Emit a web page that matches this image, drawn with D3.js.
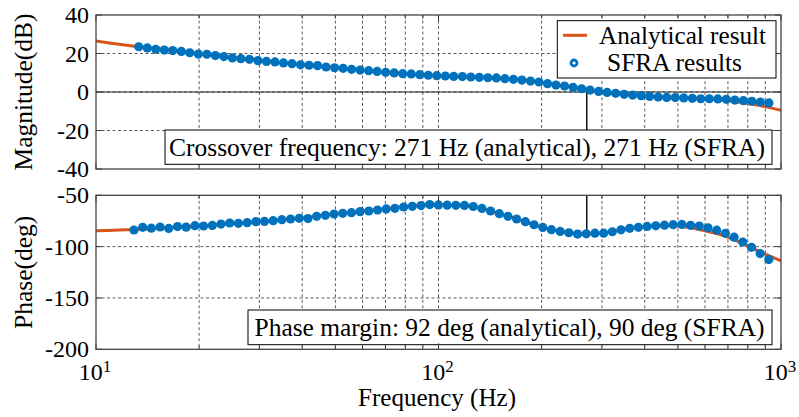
<!DOCTYPE html>
<html>
<head>
<meta charset="utf-8">
<script src="https://cdn.jsdelivr.net/npm/d3@7"></script>
</head>
<body style="margin:0;background:#fff">
<svg id="chart" width="799" height="417" style="display:block"></svg>
<script>
// ---- Loop-gain Bode data ----
// SFRA sweep: magnitude samples (Hz, dB)
const magFreq = [13.33, 14.12, 14.95, 15.83, 16.76, 17.75, 18.79, 19.90, 21.07, 22.31,
  23.63, 25.02, 26.49, 28.05, 29.71, 31.46, 33.31, 35.27, 37.35, 39.55,
  41.88, 44.35, 46.96, 49.73, 52.66, 55.76, 59.05, 62.53, 66.21, 70.11,
  74.24, 78.62, 83.25, 88.15, 93.35, 98.85, 104.7, 110.8, 117.4, 124.3,
  131.6, 139.4, 147.6, 156.3, 165.5, 175.2, 185.6, 196.5, 208.1, 220.3,
  233.3, 247.1, 261.6, 277.0, 293.4, 310.7, 329.0, 348.4, 368.9, 390.6,
  413.6, 438.0, 463.8, 491.2, 520.1, 550.8, 583.2, 617.6, 654.0, 692.5,
  733.3, 776.5, 822.3, 870.7, 922.0];
const magSFRA = [23.5, 22.9, 22.2, 21.8, 21.5, 21.1, 20.4, 19.7, 19.6, 18.9,
  18.4, 17.7, 17.3, 17.0, 16.3, 15.9, 15.6, 15.1, 14.7, 14.1,
  13.9, 13.7, 13.0, 12.6, 12.3, 11.8, 11.4, 11.1, 10.7, 10.2,
  9.9, 9.5, 9.4, 9.0, 8.7, 8.5, 8.3, 8.1, 8.0, 7.8,
  7.6, 7.4, 7.3, 6.9, 6.6, 6.2, 5.7, 5.2, 4.3, 3.6,
  3.1, 2.4, 1.7, 1.0, 0.3, -0.2, -0.7, -1.2, -1.6, -1.9,
  -2.3, -2.6, -2.8, -2.9, -3.1, -3.3, -3.5, -3.5, -3.6, -3.8,
  -4.2, -4.5, -4.8, -5.2, -5.7];

// SFRA sweep: phase samples (Hz, deg)
const phFreq = [12.91, 13.69, 14.51, 15.39, 16.31, 17.30, 18.34, 19.44, 20.61, 21.86,
  23.17, 24.57, 26.05, 27.62, 29.28, 31.04, 32.91, 34.89, 36.99, 39.22,
  41.58, 44.08, 46.74, 49.55, 52.54, 55.70, 59.05, 62.61, 66.38, 70.37,
  74.61, 79.10, 83.86, 88.91, 94.27, 99.94, 106.0, 112.4, 119.1, 126.3,
  133.9, 141.9, 150.5, 159.5, 169.1, 179.3, 190.1, 201.6, 213.7, 226.6,
  240.2, 254.7, 270.0, 286.2, 303.5, 321.7, 341.1, 361.7, 383.4, 406.5,
  431.0, 456.9, 484.4, 513.6, 544.5, 577.3, 612.0, 648.9, 688.0, 729.4,
  773.3, 819.8, 869.2, 921.5];
const phSFRA = [-83.8, -81.2, -82.0, -80.9, -82.3, -80.5, -81.0, -79.6, -79.9, -79.3,
  -78.0, -77.0, -77.3, -76.7, -75.7, -75.4, -74.7, -73.7, -73.1, -72.4,
  -72.7, -70.5, -69.5, -68.2, -67.6, -66.9, -65.9, -65.3, -64.3, -63.3,
  -62.7, -61.4, -60.7, -60.0, -59.0, -59.4, -59.6, -59.8, -59.9, -60.9,
  -62.8, -65.3, -67.9, -70.5, -73.1, -75.7, -78.7, -81.3, -83.5, -85.2,
  -86.5, -87.8, -87.5, -86.9, -86.9, -85.5, -83.6, -82.2, -81.2, -80.3,
  -79.7, -79.1, -78.6, -78.4, -79.2, -80.0, -81.7, -84.0, -87.0, -90.8,
  -95.5, -100.7, -106.8, -112.6];

// Analytical model (Hz, dB / deg)
const anaFreq = [10, 13.3, 16, 20, 25, 30, 40, 50, 60, 70, 80, 90, 100, 120, 140, 160, 180,
  200, 230, 260, 290, 330, 380, 430, 500, 580, 650, 730, 820, 900, 1000];
const anaMag = [26.5, 23.5, 22.0, 19.9, 18.0, 16.4, 14.1, 12.6, 11.3, 10.2, 9.4, 8.8, 8.4, 7.9, 7.4, 6.8, 6.0,
  5.0, 3.3, 1.8, 0.4, -0.8, -1.8, -2.5, -3.0, -3.5, -4.0, -4.9, -6.2, -7.6, -9.5];
const anaPhFreq = [10, 13, 16, 20, 25, 30, 35, 40, 50, 60, 70, 80, 90, 100, 115, 130, 150, 170,
  200, 230, 260, 290, 330, 380, 430, 480, 540, 600, 680, 770, 860, 1000];
const anaPh = [-84.5, -83.3, -81.8, -79.8, -77.6, -75.7, -73.8, -72.0, -68.1, -65.6, -63.2, -61.0, -59.8, -59.4, -59.8, -62.2, -67.6, -73.3,
  -81.0, -85.5, -87.5, -87.0, -84.6, -81.3, -79.7, -79.3, -81.3, -84.5, -89.3, -96.8, -104.3, -113.8];

// Stability figures
const crossoverHz = 271;
const phaseMarginDeg = 92;
const phaseMarginSFRA = 90;
const magTicks = [-40, -20, 0, 20, 40];
const phTicks = [-200, -150, -100, -50];
const freqTickLabels = [[10, "1"], [100, "2"], [1000, "3"]];

const orange = "#D95319", blue = "#0072BD";
const SERIF = '"Liberation Serif", "Times New Roman", Times, Tinos, "Nimbus Roman", "DejaVu Serif", serif';

// ---- Layout ----
const svg = d3.select("#chart");
const x = d3.scaleLog().domain([10, 1000]).range([96, 781]);
const yMag = d3.scaleLinear().domain([-40, 40]).range([169, 15]);
const yPh = d3.scaleLinear().domain([-200, -50]).range([349.3, 195.3]);

const freqGrid = x.ticks().filter(f => f > 10 && f < 1000);
const isMajor = f => Math.abs(Math.log10(f) - Math.round(Math.log10(f))) < 1e-9;

function label(sel, size) {
  return sel.attr("font-family", SERIF).attr("font-size", size).attr("fill", "#000");
}
// keep long captions at a fixed run length whatever face is picked
function fit(sel, len) {
  return sel.attr("textLength", len).attr("lengthAdjust", "spacingAndGlyphs");
}

function panel(id, y, yTicks) {
  const [x0, x1] = x.range();
  const [yb, yt] = y.range();
  const g = svg.append("g");
  svg.append("clipPath").attr("id", id).append("rect")
    .attr("x", x0).attr("y", yt).attr("width", x1 - x0).attr("height", yb - yt);

  // dashed grid
  const grid = g.append("g").attr("stroke", "#2b2b2b").attr("stroke-width", 0.9)
    .attr("stroke-dasharray", "3,2.5").attr("opacity", 0.85);
  grid.selectAll("line.v").data(freqGrid).join("line").attr("class", "v")
    .attr("x1", d => x(d)).attr("x2", d => x(d)).attr("y1", yt).attr("y2", yb);
  grid.selectAll("line.h").data(yTicks.slice(1, -1)).join("line").attr("class", "h")
    .attr("x1", x0).attr("x2", x1).attr("y1", d => y(d)).attr("y2", d => y(d));
  return { g, x0, x1, yt, yb };
}

function frame(p, y, yTicks) {
  const { g, x0, x1, yt, yb } = p;
  const t = g.append("g").attr("stroke", "#3a3a3a").attr("stroke-width", 1);
  // x ticks on bottom and top edges, inward
  t.selectAll("line.xb").data(x.ticks()).join("line").attr("class", "xb")
    .attr("x1", d => x(d)).attr("x2", d => x(d))
    .attr("y1", yb).attr("y2", d => yb - (isMajor(d) ? 6 : 3.5));
  t.selectAll("line.xt").data(x.ticks()).join("line").attr("class", "xt")
    .attr("x1", d => x(d)).attr("x2", d => x(d))
    .attr("y1", yt).attr("y2", d => yt + (isMajor(d) ? 6 : 3.5));
  // y ticks on left and right edges, inward
  t.selectAll("line.yl").data(yTicks).join("line").attr("class", "yl")
    .attr("x1", x0).attr("x2", x0 + 6).attr("y1", d => y(d)).attr("y2", d => y(d));
  t.selectAll("line.yr").data(yTicks).join("line").attr("class", "yr")
    .attr("x1", x1).attr("x2", x1 - 6).attr("y1", d => y(d)).attr("y2", d => y(d));
  g.append("rect").attr("x", x0).attr("y", yt).attr("width", x1 - x0).attr("height", yb - yt)
    .attr("fill", "none").attr("stroke", "#444").attr("stroke-width", 1.3);

  // y tick labels
  const yAxis = d3.axisLeft(y).tickValues(yTicks).tickSize(0).tickPadding(7)
    .tickFormat(d => String(d));
  const ax = g.append("g").attr("transform", `translate(${x0},0)`).call(yAxis);
  label(ax, 24);
  ax.select(".domain").remove();
  label(ax.selectAll("text"), 24);
}

function boxedText(g, str, cx, baseline, len, bx0, bx1, by0, by1) {
  g.append("rect").attr("x", bx0).attr("y", by0).attr("width", bx1 - bx0).attr("height", by1 - by0)
    .attr("fill", "#fff").attr("stroke", "#000").attr("stroke-width", 1);
  fit(label(g.append("text"), 25.5), len)
    .attr("x", cx).attr("y", baseline).attr("text-anchor", "middle").text(str);
}

// ---- Magnitude panel ----
const pm = panel("clipMag", yMag, magTicks);
const cm = pm.g.append("g").attr("clip-path", "url(#clipMag)");
cm.append("line").attr("x1", pm.x0).attr("x2", pm.x1).attr("y1", yMag(0)).attr("y2", yMag(0))
  .attr("stroke", "#222").attr("stroke-width", 1.1);
cm.append("path")
  .datum(anaFreq.map((f, i) => [f, anaMag[i]]))
  .attr("fill", "none").attr("stroke", orange).attr("stroke-width", 3)
  .attr("d", d3.line().x(d => x(d[0])).y(d => yMag(d[1])).curve(d3.curveMonotoneX));
cm.append("line").attr("x1", x(crossoverHz)).attr("x2", x(crossoverHz))
  .attr("y1", yMag(0)).attr("y2", yMag(-20)).attr("stroke", "#000").attr("stroke-width", 1.4);
cm.selectAll("circle").data(magFreq.map((f, i) => [f, magSFRA[i]])).join("circle")
  .attr("cx", d => x(d[0])).attr("cy", d => yMag(d[1])).attr("r", 4.6).attr("fill", blue);
boxedText(pm.g, `Crossover frequency: ${crossoverHz} Hz (analytical), ${crossoverHz} Hz (SFRA)`,
  467, 155.7, 596, 165, 772, 130, 164.3);
frame(pm, yMag, magTicks);

// legend
const lg = svg.append("g");
lg.append("rect").attr("x", 557.3).attr("y", 20.7).attr("width", 218.7).attr("height", 57.3)
  .attr("fill", "#fff").attr("stroke", "#000").attr("stroke-width", 1);
lg.append("line").attr("x1", 563).attr("x2", 587).attr("y1", 35.3).attr("y2", 35.3)
  .attr("stroke", orange).attr("stroke-width", 3);
fit(label(lg.append("text"), 24.5), 167).attr("x", 599).attr("y", 43.5).text("Analytical result");
lg.append("circle").attr("cx", 574).attr("cy", 63).attr("r", 3)
  .attr("fill", "#fff").attr("stroke", blue).attr("stroke-width", 2.8);
fit(label(lg.append("text"), 24.5), 135).attr("x", 607).attr("y", 71).text("SFRA results");

// ---- Phase panel ----
const pp = panel("clipPh", yPh, phTicks);
const cp = pp.g.append("g").attr("clip-path", "url(#clipPh)");
cp.append("path")
  .datum(anaPhFreq.map((f, i) => [f, anaPh[i]]))
  .attr("fill", "none").attr("stroke", orange).attr("stroke-width", 3)
  .attr("d", d3.line().x(d => x(d[0])).y(d => yPh(d[1])).curve(d3.curveMonotoneX));
cp.append("line").attr("x1", x(crossoverHz)).attr("x2", x(crossoverHz))
  .attr("y1", yPh(-50)).attr("y2", yPh(-180 + phaseMarginDeg)).attr("stroke", "#000").attr("stroke-width", 1.4);
cp.selectAll("circle").data(phFreq.map((f, i) => [f, phSFRA[i]])).join("circle")
  .attr("cx", d => x(d[0])).attr("cy", d => yPh(d[1])).attr("r", 4.6).attr("fill", blue);
boxedText(pp.g, `Phase margin: ${phaseMarginDeg} deg (analytical), ${phaseMarginSFRA} deg (SFRA)`,
  509.5, 336, 510, 248, 772, 310, 344.7);
frame(pp, yPh, phTicks);

// frequency tick labels (powers of ten)
const xl = svg.append("g");
freqTickLabels.forEach(([f, e]) => {
  const t = label(xl.append("text"), 24).attr("x", x(f) - 1).attr("y", 380).attr("text-anchor", "middle");
  t.append("tspan").text("10");
  t.append("tspan").attr("dy", -8).attr("font-size", 17).text(e);
});

// axis titles
fit(label(svg.append("text"), 25.5), 158).attr("x", 437).attr("y", 406).attr("text-anchor", "middle")
  .text("Frequency (Hz)");
fit(label(svg.append("text"), 25.5), 157)
  .attr("transform", `translate(32,${(yMag.range()[0] + yMag.range()[1]) / 2}) rotate(-90)`)
  .attr("text-anchor", "middle").text("Magnitude(dB)");
label(svg.append("text"), 25.5)
  .attr("transform", `translate(32,${(yPh.range()[0] + yPh.range()[1]) / 2}) rotate(-90)`)
  .attr("text-anchor", "middle").text("Phase(deg)");
</script>
</body>
</html>
